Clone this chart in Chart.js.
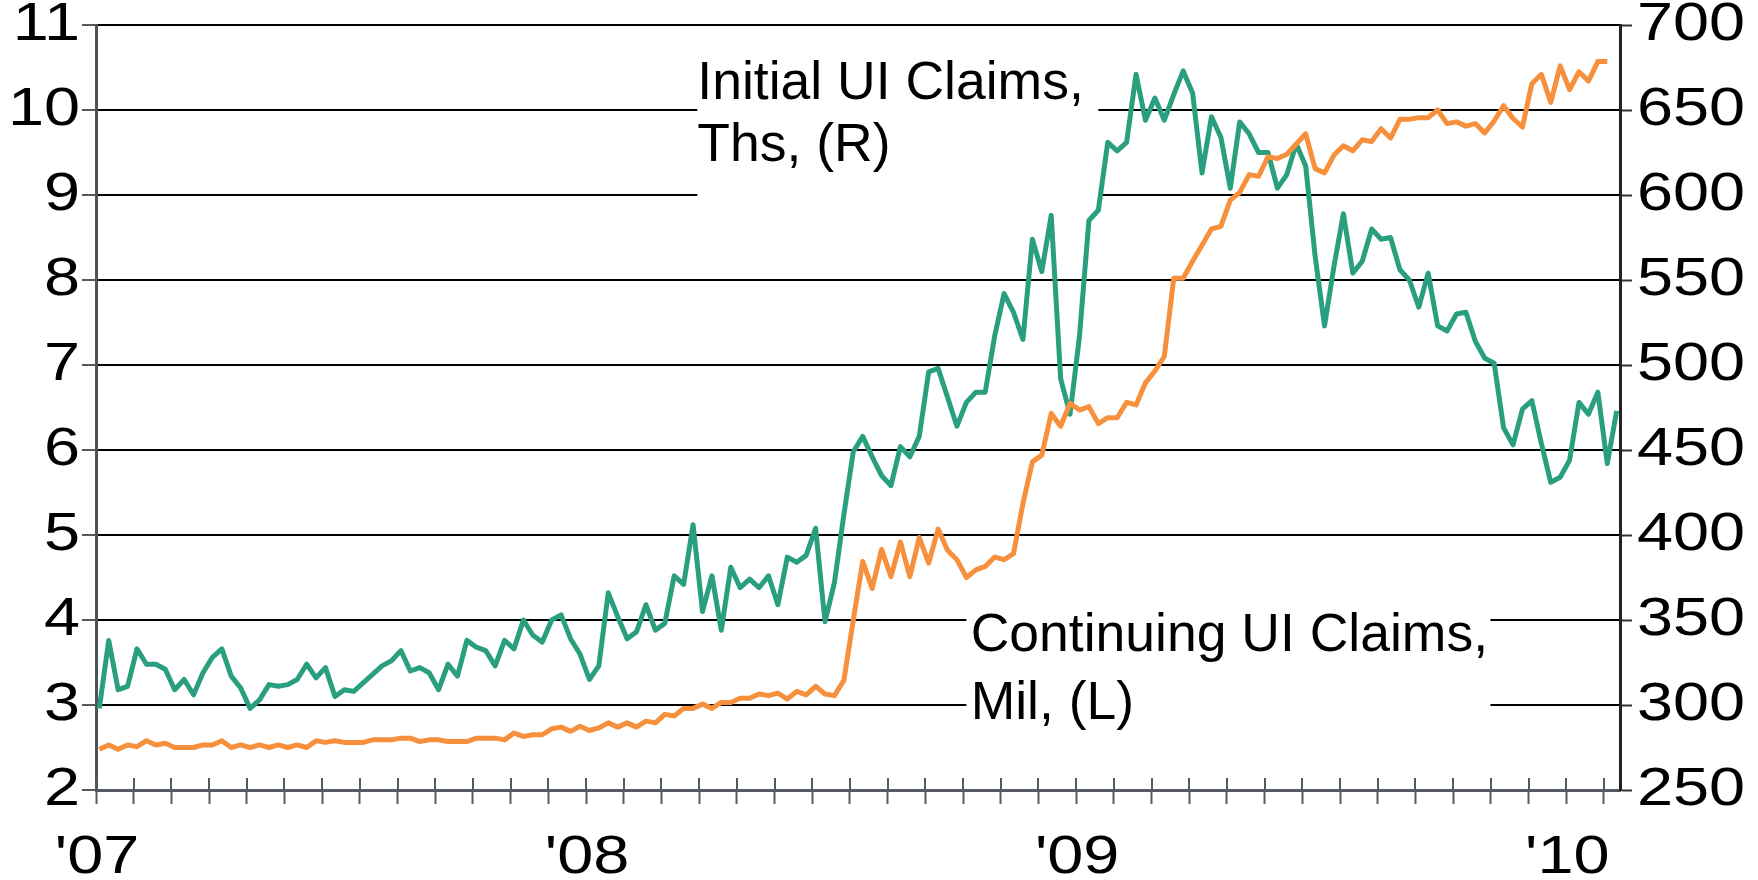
<!DOCTYPE html>
<html>
<head>
<meta charset="utf-8">
<script src="https://cdn.jsdelivr.net/npm/chart.js@4.4.1/dist/chart.umd.min.js"></script>
<style>
  html, body { margin: 0; padding: 0; background: #ffffff; }
  #wrap { width: 1758px; height: 880px; }
</style>
</head>
<body>
<div id="wrap"><canvas id="c" width="1758" height="880"></canvas></div>
<script>
// Weekly observations, first week of Jan 2007 onward
const initialClaims = [ // thousands, right axis
  298,338,309,311,333,324,324,321,309,315,306,319,328,333,317,310,298,303,312,311,
  312,315,324,316,322,305,309,308,313,318,323,326,332,320,322,319,309,324,317,338,
  334,332,323,338,333,350,341,337,350,353,339,330,315,323,366,352,339,343,359,344,
  348,376,371,406,355,376,344,381,369,374,369,376,359,387,384,388,404,349,372,412,
  449,458,446,435,429,452,446,458,496,498,481,464,478,484,484,517,542,531,515,574,
  555,588,492,471,517,585,591,631,626,631,671,644,657,644,659,673,660,613,646,634,
  604,643,636,625,625,604,612,630,617,564,523,558,589,554,561,580,574,575,556,550,
  534,554,523,520,530,531,514,504,501,463,453,474,479,454,431,434,444,478,471,484,
  442,473
];
const continuingClaims = [ // millions, left axis
  2.48,2.53,2.48,2.53,2.51,2.58,2.53,2.55,2.50,2.50,2.50,2.53,2.53,2.58,2.50,2.53,2.50,2.53,2.50,2.53,
  2.50,2.53,2.50,2.58,2.56,2.58,2.56,2.56,2.56,2.59,2.59,2.59,2.61,2.61,2.57,2.59,2.59,2.57,2.57,2.57,
  2.61,2.61,2.61,2.59,2.67,2.63,2.65,2.65,2.72,2.74,2.69,2.75,2.70,2.73,2.79,2.74,2.79,2.74,2.81,2.79,
  2.89,2.87,2.96,2.96,3.01,2.96,3.03,3.03,3.08,3.08,3.13,3.11,3.14,3.07,3.16,3.12,3.22,3.13,3.11,3.29,
  4.00,4.69,4.37,4.83,4.51,4.92,4.51,4.97,4.67,5.07,4.82,4.71,4.50,4.59,4.63,4.74,4.71,4.78,5.37,5.86,
  5.94,6.43,6.28,6.55,6.47,6.51,6.31,6.38,6.38,6.56,6.53,6.79,6.93,7.10,8.02,8.02,8.22,8.41,8.60,8.63,
  8.94,9.03,9.24,9.22,9.45,9.43,9.48,9.60,9.72,9.31,9.26,9.47,9.58,9.52,9.65,9.63,9.78,9.67,9.89,9.89,
  9.91,9.91,10.00,9.84,9.86,9.81,9.84,9.73,9.87,10.05,9.90,9.80,10.31,10.42,10.09,10.52,10.24,10.45,10.34,10.57,
  10.57
];
const yearLabels = ["'07", "'08", "'09", "'10"];
const leftTicks = [2, 11, 1];      // min, max, step (millions)
const rightTicks = [250, 700, 50]; // min, max, step (thousands)
const weeksPerTick = 4;
const ticksPerYear = 13;

const FONT = "'Liberation Sans', Arial, Helvetica, sans-serif";
const GREEN = '#2a9f7f';
const ORANGE = '#f6903d';
const TICK_FONT = 54;
const TICK_STRETCH = 1.2;

const X_MIN = -0.35, X_MAX = 161.35;

const notes = [
  { lines: ['Initial UI Claims,', 'Ths, (R)'], x: 63.45, ys: [10.13, 9.40], box: [63.45, 106.0, 10.76, 8.88] },
  { lines: ['Continuing UI Claims,', 'Mil, (L)'], x: 92.45, ys: [3.635, 2.835], box: [92.0, 147.6, 4.23, 2.55] }
];

function stretchedText(ctx, text, x, y, align) {
  ctx.save();
  ctx.translate(x, y);
  ctx.scale(TICK_STRETCH, 1);
  ctx.textAlign = align;
  ctx.fillText(text, 0, 0);
  ctx.restore();
}

const notePlugin = {
  id: 'notes',
  beforeDatasetsDraw(chart) {
    const ctx = chart.ctx, xs = chart.scales.x, ys = chart.scales.y;
    ctx.save();
    ctx.fillStyle = '#ffffff';
    notes.forEach(n => {
      const x0 = xs.getPixelForValue(n.box[0]), x1 = xs.getPixelForValue(n.box[1]);
      const y0 = ys.getPixelForValue(n.box[2]), y1 = ys.getPixelForValue(n.box[3]);
      ctx.fillRect(x0, y0, x1 - x0, y1 - y0);
    });
    ctx.fillStyle = '#000000';
    ctx.font = '53.5px ' + FONT;
    ctx.textAlign = 'left';
    ctx.textBaseline = 'alphabetic';
    notes.forEach(n => {
      n.lines.forEach((t, k) => {
        ctx.fillText(t, xs.getPixelForValue(n.x), ys.getPixelForValue(n.ys[k]));
      });
    });
    ctx.restore();
  },
  afterDraw(chart) {
    const ctx = chart.ctx, xs = chart.scales.x, ys = chart.scales.y, ys1 = chart.scales.y1;
    const yb = chart.chartArea.bottom;
    ctx.save();
    // upper half of the crossing x-axis tick marks
    ctx.strokeStyle = '#555a60';
    ctx.lineWidth = 2;
    xs.ticks.forEach(t => {
      const px = Math.round(xs.getPixelForValue(t.value));
      ctx.beginPath();
      ctx.moveTo(px, yb);
      ctx.lineTo(px, yb - 12);
      ctx.stroke();
    });
    // tick labels (wide lettering)
    ctx.fillStyle = '#000000';
    ctx.font = TICK_FONT + 'px ' + FONT;
    ctx.textBaseline = 'middle';
    ys.ticks.forEach(t => {
      stretchedText(ctx, String(t.value), ys.right - 16, ys.getPixelForValue(t.value), 'right');
    });
    ys1.ticks.forEach(t => {
      stretchedText(ctx, String(t.value), ys1.left + 17, ys1.getPixelForValue(t.value), 'left');
    });
    xs.ticks.forEach((t, i) => {
      if (i % ticksPerYear !== 0) return;
      const lab = yearLabels[i / ticksPerYear];
      if (!lab) return;
      stretchedText(ctx, lab, xs.getPixelForValue(t.value) + 1, yb + 68, 'center');
    });
    ctx.restore();
  }
};

const ctx = document.getElementById('c').getContext('2d');
new Chart(ctx, {
  type: 'line',
  data: {
    datasets: [
      {
        label: 'Continuing UI Claims, Mil, (L)',
        data: continuingClaims.map((v, i) => ({ x: i, y: v })),
        yAxisID: 'y',
        borderColor: ORANGE,
        borderWidth: 5,
        pointRadius: 0,
        tension: 0,
        borderJoinStyle: 'round',
        fill: false
      },
      {
        label: 'Initial UI Claims, Ths, (R)',
        data: initialClaims.map((v, i) => ({ x: i, y: v })),
        yAxisID: 'y1',
        borderColor: GREEN,
        borderWidth: 5,
        pointRadius: 0,
        tension: 0,
        borderJoinStyle: 'round',
        fill: false
      }
    ]
  },
  options: {
    responsive: false,
    animation: false,
    events: [],
    layout: { padding: { top: 25, left: 0, right: 0, bottom: 0 } },
    plugins: { legend: { display: false }, tooltip: { enabled: false } },
    scales: {
      x: {
        type: 'linear',
        min: X_MIN,
        max: X_MAX,
        afterBuildTicks(scale) {
          const t = [];
          for (let k = 0; X_MIN + k * weeksPerTick <= X_MAX; k++) t.push({ value: X_MIN + k * weeksPerTick });
          scale.ticks = t;
        },
        afterFit(scale) { scale.height = 90; scale.paddingLeft = 0; scale.paddingRight = 0; },
        grid: { drawOnChartArea: false, drawTicks: true, tickLength: 14, tickColor: '#555a60', tickWidth: 2 },
        border: { display: true, color: '#555a60', width: 3 },
        ticks: { display: false, autoSkip: false, maxRotation: 0 }
      },
      y: {
        position: 'left',
        min: leftTicks[0],
        max: leftTicks[1],
        afterFit(scale) { scale.width = 96; scale.paddingTop = 0; scale.paddingBottom = 0; },
        grid: { color: '#000000', lineWidth: 2, drawTicks: true, tickLength: 14, tickColor: '#555a60', tickWidth: 2 },
        border: { display: true, color: '#4d5257', width: 3 },
        ticks: { display: false, stepSize: leftTicks[2] }
      },
      y1: {
        position: 'right',
        min: rightTicks[0],
        max: rightTicks[1],
        afterFit(scale) { scale.width = 138; scale.paddingTop = 0; scale.paddingBottom = 0; },
        grid: { drawOnChartArea: false, drawTicks: true, tickLength: 12, tickColor: '#333333', tickWidth: 2 },
        border: { display: true, color: '#222222', width: 3 },
        ticks: { display: false, stepSize: rightTicks[2] }
      }
    }
  },
  plugins: [notePlugin]
});
</script>
</body>
</html>
